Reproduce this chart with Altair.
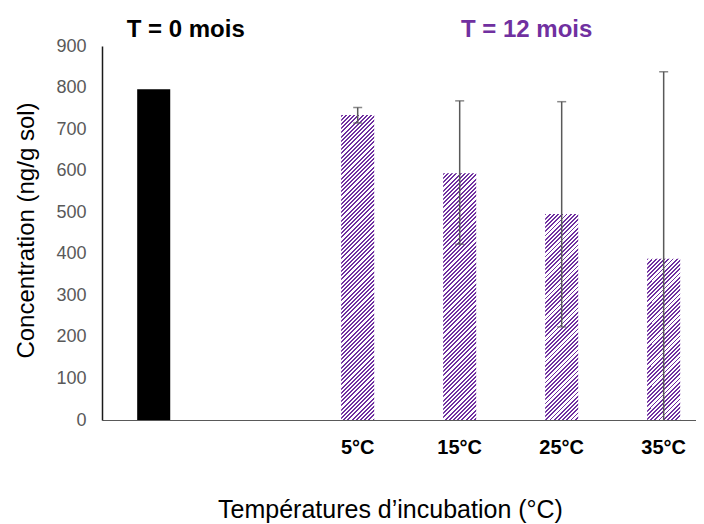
import math
import altair as alt
import pandas as pd

# ---------------- data ----------------
categories = ["T0", "gap", "5°C", "15°C", "25°C", "35°C"]
bar_cats = ["T0", "5°C", "15°C", "25°C", "35°C"]
bar_values = [796, 734, 594, 496, 388]
err_cats = ["5°C", "15°C", "25°C", "35°C"]
err_low = [715, 423, 224, 0]
err_high = [752, 768, 766, 838]
y_ticks = [0, 100, 200, 300, 400, 500, 600, 700, 800, 900]
hatched_cats = ["5°C", "15°C", "25°C", "35°C"]

bars = pd.DataFrame({"cat": bar_cats, "val": bar_values})
errs = pd.DataFrame({"cat": err_cats, "lo": err_low, "hi": err_high})

# ---------------- style ----------------
PLOT_W, PLOT_H = 594, 374
Y_MAX = 900
PURPLE = "#7030A0"
GREY = "#595959"
FONT = "Liberation Sans"
BAND_W = 102 * (1 - 0.676)


def hatch(h_px, period=4.2, frac=0.45):
    w = BAND_W
    k = (w + h_px) / (w * w + h_px * h_px)
    n = (w + h_px) / period
    stops = []
    i = 0
    while i < n:
        o0 = min(i / n, 1.0)
        o1 = min((i + frac) / n, 1.0)
        o2 = min((i + 1) / n, 1.0)
        stops += [
            {"offset": o0, "color": PURPLE},
            {"offset": o1, "color": PURPLE},
            {"offset": o1, "color": "#ffffff"},
            {"offset": o2, "color": "#ffffff"},
        ]
        i += 1
    return {
        "gradient": "linear",
        "x1": 0, "y1": 0,
        "x2": w * k, "y2": h_px * k,
        "stops": stops,
    }


x_scale = alt.Scale(domain=categories, paddingInner=0.676, paddingOuter=0.25, align=0.69)
y_scale = alt.Scale(domain=[0, Y_MAX], nice=False)

x_axis = alt.Axis(
    title="Températures d’incubation (°C)",
    labelExpr="datum.value == 'T0' || datum.value == 'gap' ? '' : datum.value",
    labelAngle=0,
    labelFont=FONT, labelFontSize=20, labelFontWeight="bold", labelColor="#000000",
    labelPadding=17,
    ticks=False, tickSize=0,
    domainColor=GREY, domainWidth=1,
    titleFont=FONT, titleFontSize=25, titleFontWeight="normal", titleColor="#000000",
    titleX=288, titleY=97, titleAlign="center", titleBaseline="alphabetic",
)
y_axis = alt.Axis(
    title="Concentration (ng/g sol)",
    values=y_ticks,
    grid=False,
    ticks=False, tickSize=0,
    labelFont=FONT, labelFontSize=18, labelColor=GREY, labelPadding=16,
    domainColor="#1a1a1a", domainWidth=1.5,
    titleFont=FONT, titleFontSize=24, titleFontWeight="normal", titleColor="#000000",
    titleX=-76, titleY=184, titleAngle=-90, titleAlign="center", titleBaseline="middle",
)


def X():
    return alt.X("cat:N", scale=x_scale, axis=x_axis, sort=categories)


def Y(field):
    return alt.Y(field, scale=y_scale, axis=y_axis)


layers = []
layers.append(
    alt.Chart(bars).transform_filter(alt.datum.cat == "T0")
    .mark_bar(color="#000000")
    .encode(x=X(), y=Y("val:Q"))
)
for c, v in zip(bar_cats, bar_values):
    if c in hatched_cats:
        h_px = v * PLOT_H / Y_MAX
        layers.append(
            alt.Chart(bars).transform_filter(alt.datum.cat == c)
            .mark_bar(color=hatch(h_px))
            .encode(x=X(), y=Y("val:Q"))
        )

err_rule = alt.Chart(errs).mark_rule(color=GREY, strokeWidth=1.5).encode(
    x=X(), y=Y("lo:Q"), y2="hi:Q",
)
cap_hi = alt.Chart(errs).mark_tick(color=GREY, size=9, thickness=1.5, orient="horizontal").encode(
    x=X(), y=Y("hi:Q")
)
cap_lo = alt.Chart(errs).transform_filter(alt.datum.lo > 0).mark_tick(
    color=GREY, size=9, thickness=1.5, orient="horizontal"
).encode(x=X(), y=Y("lo:Q"))

t0_label = alt.Chart(pd.DataFrame({"cat": ["T0"], "label": ["T = 0 mois"]})).mark_text(
    font=FONT, fontSize=24, fontWeight="bold", color="#000000",
    align="center", baseline="alphabetic", dx=32,
).encode(x=X(), y=alt.value(-9), text="label:N")

t12_label = alt.Chart(pd.DataFrame({"cat": ["15°C"], "label": ["T = 12 mois"]})).mark_text(
    font=FONT, fontSize=24, fontWeight="bold", color=PURPLE,
    align="center", baseline="alphabetic", dx=67,
).encode(x=X(), y=alt.value(-9), text="label:N")

chart = alt.layer(*layers, err_rule, cap_hi, cap_lo, t0_label, t12_label).properties(
    width=PLOT_W,
    height=PLOT_H,
    background="#ffffff",
    autosize=alt.AutoSizeParams(type="none"),
    padding={"left": 94, "top": 38, "right": 0, "bottom": 104},
).configure_view(stroke=None)

chart.save("out.html", embed_options={"renderer": "svg", "actions": False})
